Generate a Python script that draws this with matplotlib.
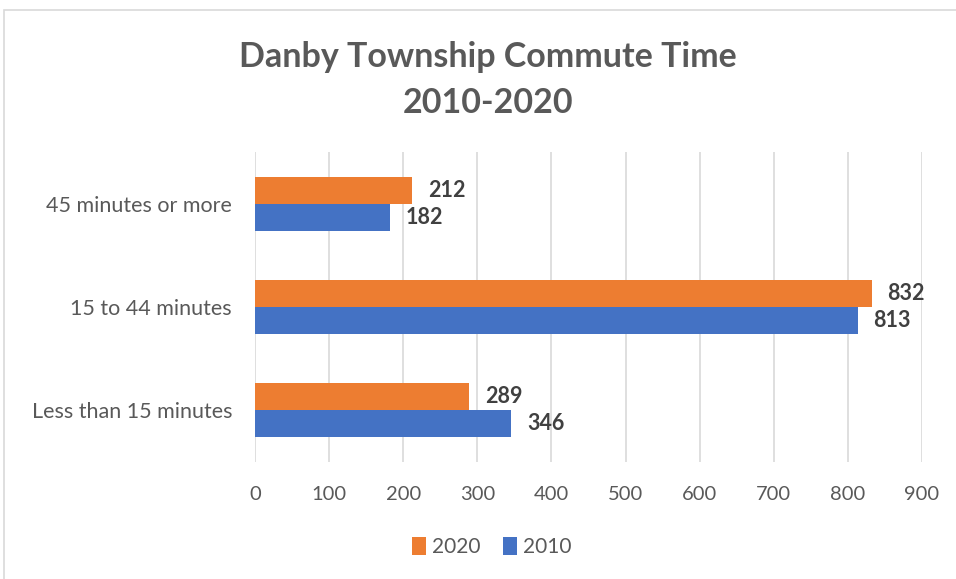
import matplotlib
matplotlib.use("Agg")
import matplotlib.pyplot as plt
import numpy as np

categories = ["Less than 15 minutes", "15 to 44 minutes", "45 minutes or more"]
series_names = ["2020", "2010"]
values_2020 = [289, 832, 212]
values_2010 = [346, 813, 182]
xticks = [0, 100, 200, 300, 400, 500, 600, 700, 800, 900]

plt.rcParams['font.family'] = ['Lato', 'DejaVu Sans']

fig = plt.figure(figsize=(9.56, 5.79), dpi=100)
fig.patches.append(plt.Rectangle((4/956, -0.1), 1.2, (579-10)/579 + 0.1,
                                 transform=fig.transFigure, fill=False,
                                 edgecolor="#D9D9D9", linewidth=1.2))
ax = fig.add_axes([255/956, 1 - 462/579, (922-255)/956, (462-152)/579])

y = np.arange(len(categories))
h = 0.262
c2020 = "#ED7D31"
c2010 = "#4472C4"
b1 = ax.barh(y + h/2, values_2020, height=h, color=c2020, label="2020", zorder=3)
b2 = ax.barh(y - h/2, values_2010, height=h, color=c2010, label="2010", zorder=3)

for bars in (b1, b2):
    for rect in bars:
        w = rect.get_width()
        ax.annotate(f"{int(w)}", xy=(w, rect.get_y() + rect.get_height()/2),
                    xytext=(16, 0), textcoords="offset pixels",
                    ha="left", va="center", fontsize=15.5, fontweight="bold",
                    color="#404040")

ax.set_xlim(0, 900)
ax.set_ylim(-0.5, 2.5)
ax.set_xticks(xticks)
ax.set_xticklabels([str(t) for t in xticks])
ax.set_yticks(y)
ax.set_yticklabels(categories)
ax.grid(axis="x", color="#D9D9D9", linewidth=1.2, zorder=0)
for s in ax.spines.values():
    s.set_visible(False)
ax.tick_params(axis="both", length=0, colors="#595959")
ax.tick_params(axis="x", pad=17, labelsize=14.5)
ax.tick_params(axis="y", pad=16.5, labelsize=15.5)

fig.text(488/956, 1 - 57/579, "Danby Township Commute Time", ha="center", va="center",
         fontsize=24.5, fontweight="bold", color="#595959")
fig.text(488/956, 1 - 103/579, "2010-2020", ha="center", va="center",
         fontsize=24.5, fontweight="bold", color="#595959")

fig.legend(handles=[b1, b2], labels=series_names, loc="center",
           bbox_to_anchor=(492/956, 1 - 547/579), ncol=2, frameon=False,
           fontsize=15, labelcolor="#595959", handlelength=0.65, handleheight=1.0,
           handletextpad=0.3, columnspacing=1.1)

fig.savefig("out.png", dpi=100, facecolor="white")
